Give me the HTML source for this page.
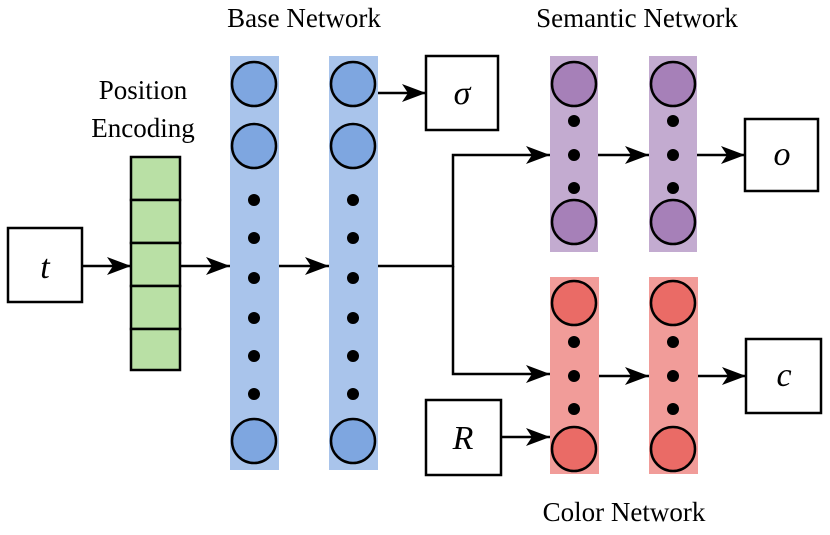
<!DOCTYPE html>
<html><head><style>body{margin:0;background:#fff}</style></head><body>
<svg width="830" height="530" xmlns="http://www.w3.org/2000/svg" font-family="Liberation Serif, serif">
<defs>
<marker id="b" viewBox="0 0 24 20" markerWidth="24" markerHeight="20" refX="24" refY="10" orient="auto" markerUnits="userSpaceOnUse"><path d="M0,1 L24,10 L0,19 L6,10 z" fill="#000"/></marker></defs>
<g font-size="27" text-anchor="middle" fill="#000">
<text x="304" y="27">Base Network</text>
<text x="637" y="27">Semantic Network</text>
<text x="624" y="521">Color Network</text>
<text x="143" y="99">Position</text>
<text x="143" y="137">Encoding</text>
</g>
<g stroke="#000" stroke-width="2.5" fill="#fff">
<rect x="8" y="228" width="74" height="74"/>
<rect x="426" y="56" width="72" height="74"/>
<rect x="745" y="119" width="73" height="72"/>
<rect x="746" y="339" width="75" height="74"/>
<rect x="426" y="400" width="75" height="75"/>
</g>
<g font-size="34" font-style="italic" text-anchor="middle">
<text x="45" y="278">t</text>
<text x="462" y="104">σ</text>
<text x="782" y="165">o</text>
<text x="784" y="386">c</text>
<text x="463" y="449">R</text>
</g>
<g stroke="#000" stroke-width="2.5" fill="#b9e0a5">
<rect x="131" y="157" width="49" height="43"/><rect x="131" y="200" width="49" height="43"/><rect x="131" y="243" width="49" height="43"/><rect x="131" y="286" width="49" height="43"/><rect x="131" y="329" width="49" height="41"/>
</g>
<g fill="#a9c4eb"><rect x="230" y="56" width="49" height="414"/><rect x="329" y="56" width="49" height="414"/></g>
<g fill="#c3abd0"><rect x="550" y="56" width="48" height="196"/><rect x="649" y="56" width="48" height="196"/></g>
<g fill="#f19c99"><rect x="550" y="277" width="49" height="197"/><rect x="649" y="277" width="49" height="197"/></g>
<g stroke="#000" stroke-width="2.5">
<g fill="#7ea6e0"><circle cx="254" cy="84" r="22"/><circle cx="254" cy="146" r="22"/><circle cx="254" cy="441" r="22"/><circle cx="353" cy="84" r="22"/><circle cx="353" cy="146" r="22"/><circle cx="353" cy="441" r="22"/></g>
<g fill="#a680b8"><circle cx="574" cy="84" r="22"/><circle cx="574" cy="222" r="22"/><circle cx="673" cy="84" r="22"/><circle cx="673" cy="222" r="22"/></g>
<g fill="#ea6b66"><circle cx="574" cy="303" r="22"/><circle cx="574" cy="449" r="22"/><circle cx="673" cy="303" r="22"/><circle cx="673" cy="449" r="22"/></g>
</g>
<g fill="#000">
<circle cx="254" cy="200" r="6"/><circle cx="254" cy="238" r="6"/><circle cx="254" cy="278" r="6"/><circle cx="254" cy="318" r="6"/><circle cx="254" cy="356" r="6"/><circle cx="254" cy="394" r="6"/>
<circle cx="353" cy="200" r="6"/><circle cx="353" cy="238" r="6"/><circle cx="353" cy="278" r="6"/><circle cx="353" cy="318" r="6"/><circle cx="353" cy="356" r="6"/><circle cx="353" cy="394" r="6"/>
<circle cx="574" cy="121" r="6"/><circle cx="574" cy="155" r="6"/><circle cx="574" cy="188" r="6"/>
<circle cx="673" cy="121" r="6"/><circle cx="673" cy="155" r="6"/><circle cx="673" cy="188" r="6"/>
<circle cx="574" cy="342" r="6"/><circle cx="574" cy="376" r="6"/><circle cx="574" cy="409" r="6"/>
<circle cx="673" cy="342" r="6"/><circle cx="673" cy="376" r="6"/><circle cx="673" cy="409" r="6"/>
</g>
<g stroke="#000" stroke-width="2.5" fill="none" marker-end="url(#b)">
<line x1="82" y1="266" x2="131" y2="266"/>
<line x1="180" y1="266" x2="230" y2="266"/>
<line x1="279" y1="266" x2="329" y2="266"/>
<line x1="378" y1="93" x2="426" y2="93"/>
<polyline points="378,266 453,266 453,155 550,155"/>
<polyline points="453,266 453,374 550,374"/>
<line x1="598" y1="155" x2="649" y2="155"/>
<line x1="697" y1="155" x2="745" y2="155"/>
<line x1="599" y1="376" x2="649" y2="376"/>
<line x1="698" y1="376" x2="746" y2="376"/>
<line x1="501" y1="437" x2="550" y2="437"/>
</g>
</svg>
</body></html>
